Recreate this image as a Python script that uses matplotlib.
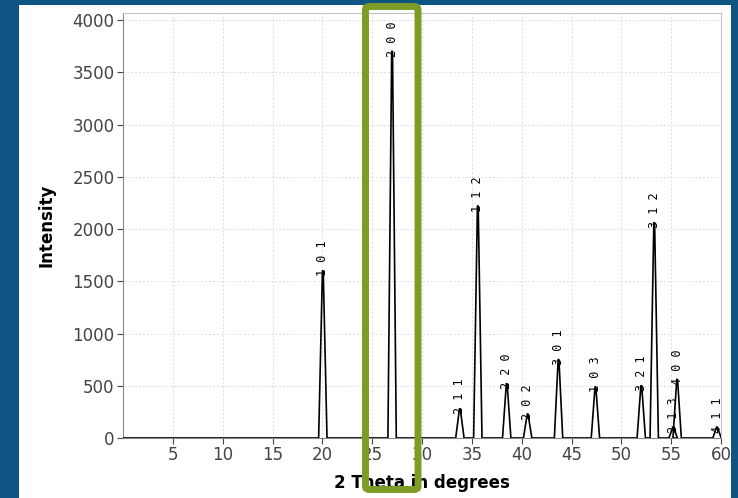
import numpy as np
import matplotlib.pyplot as plt
from matplotlib.patches import FancyBboxPatch, Rectangle

# peak positions (2 theta), intensities and Miller indices
posiciones = [20.05, 27.0, 33.8, 35.6, 38.5, 40.6, 43.7, 47.4, 52.0, 53.3, 55.2, 55.6, 59.6]
intensidades = [1600, 3700, 280, 2220, 520, 230, 750, 490, 500, 2060, 105, 560, 105]
indices = ['1 0 1', '2 0 0', '2 1 1', '1 1 2', '2 2 0', '2 0 2', '3 0 1', '1 0 3',
           '3 2 1', '3 1 2', '2 1 3', '4 0 0', '4 1 1']

medio_ancho = 0.42

# perfil: triangulo estrecho para cada pico sobre linea base cero
xs = [0.0]
ys = [0.0]
for p, h in zip(posiciones, intensidades):
    xs += [p - medio_ancho, p - 0.04, p + 0.04, p + medio_ancho]
    ys += [0, h, h, 0]
xs.append(60.5)
ys.append(0.0)

fig = plt.figure(figsize=(7.38, 4.98), dpi=100)
fig.patch.set_facecolor('#0f5583')
# panel blanco
fig.patches.append(Rectangle((19 / 738, 0), (731 - 19) / 738, 493 / 498,
                             transform=fig.transFigure, facecolor='white',
                             edgecolor='none', zorder=-5))

ax = fig.add_axes([123 / 738, 60 / 498, 598 / 738, 425 / 498])
ax.set_zorder(2)
ax.plot(xs, ys, color='black', linewidth=1.2, zorder=3)

for p, h, t in zip(posiciones, intensidades, indices):
    ax.annotate(t, (p, h), xytext=(0, -4), textcoords='offset points',
                rotation=90, ha='center', va='bottom', fontsize=8.5,
                family='DejaVu Sans Mono', color='black', zorder=4)

ax.set_xlim(0, 60)
ax.set_ylim(0, 4067)
ax.set_xticks(np.arange(5, 61, 5))
ax.set_yticks(np.arange(0, 4001, 500))
ax.grid(True, color='#dddddd', linestyle=(0, (2, 2)), linewidth=0.7)
ax.tick_params(labelsize=12, colors='#444444', length=4, width=0.8, pad=2)
for s in ['left', 'bottom']:
    ax.spines[s].set_color('#888888')
for s in ['top', 'right']:
    ax.spines[s].set_color('#c4c4c4')

ax.set_xlabel('2 Theta in degrees', fontsize=12, fontweight='bold', labelpad=7)
ax.set_ylabel('Intensity', fontsize=12, fontweight='bold', labelpad=12)

# recuadro verde resaltando el pico 2 0 0
fig.patches.append(FancyBboxPatch((365.5 / 738, 8.5 / 498), 52.5 / 738, 483 / 498,
                                  boxstyle='round,pad=0,rounding_size=0.006',
                                  transform=fig.transFigure, facecolor='none',
                                  edgecolor='#7d9c27', linewidth=5, zorder=10))

plt.savefig('out.png', dpi=100, facecolor=fig.get_facecolor())
